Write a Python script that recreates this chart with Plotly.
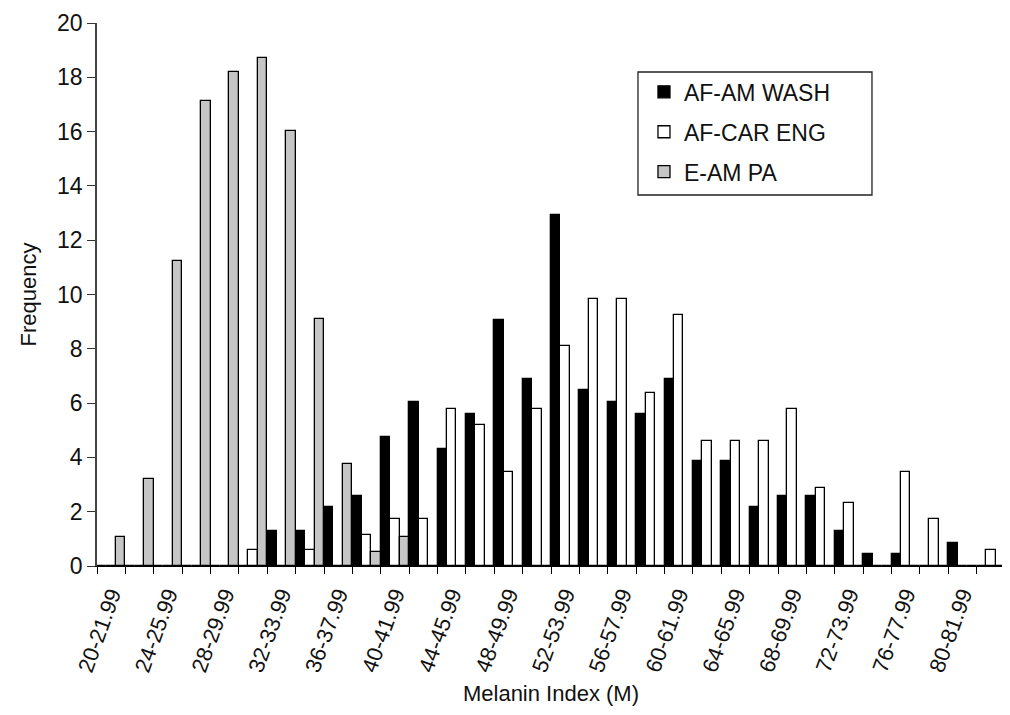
import plotly.graph_objects as go

categories = ["20-21.99", "22-23.99", "24-25.99", "26-27.99", "28-29.99", "30-31.99",
              "32-33.99", "34-35.99", "36-37.99", "38-39.99", "40-41.99", "42-43.99",
              "44-45.99", "46-47.99", "48-49.99", "50-51.99", "52-53.99", "54-55.99",
              "56-57.99", "58-59.99", "60-61.99", "62-63.99", "64-65.99", "66-67.99",
              "68-69.99", "70-71.99", "72-73.99", "74-75.99", "76-77.99", "78-79.99",
              "80-81.99", "82-83.99"]

af_am_wash = [0, 0, 0, 0, 0, 0, 1.29, 1.29, 2.16, 2.59, 4.74, 6.03, 4.31, 5.60, 9.05, 6.90,
              12.93, 6.47, 6.03, 5.60, 6.90, 3.88, 3.88, 2.16, 2.59, 2.59, 1.29, 0.43, 0.43,
              0, 0.86, 0]
af_car_eng = [0, 0, 0, 0, 0, 0.58, 0, 0.58, 0, 1.16, 1.73, 1.73, 5.78, 5.20, 3.47, 5.78,
              8.09, 9.83, 9.83, 6.36, 9.25, 4.62, 4.62, 4.62, 5.78, 2.89, 2.31, 0, 3.47,
              1.73, 0, 0.58]
e_am_pa = [1.07, 3.21, 11.23, 17.11, 18.18, 18.72, 16.04, 9.09, 3.74, 0.53, 1.07, 0, 0, 0, 0, 0,
           0, 0, 0, 0, 0, 0, 0, 0, 0, 0, 0, 0, 0, 0, 0, 0]

series_names = ["AF-AM WASH", "AF-CAR ENG", "E-AM PA"]
series_values = [af_am_wash, af_car_eng, e_am_pa]
series_colors = ["#000000", "#ffffff", "#c6c6c6"]

x_idx = list(range(len(categories)))

fig = go.Figure()
for name, vals, col in zip(series_names, series_values, series_colors):
    fig.add_trace(go.Bar(
        x=x_idx, y=vals, name=name, legendgroup=name,
        marker=dict(color=col, line=dict(color="#000000", width=1.3)),
    ))

FONT = "Arial, Liberation Sans, sans-serif"

fig.update_layout(
    width=1002, height=707,
    paper_bgcolor="white", plot_bgcolor="white",
    margin=dict(l=89, r=5, t=15, b=149, autoexpand=False),
    barmode="group", bargap=0, bargroupgap=0,
    font=dict(family=FONT, color="#111111", size=21),
    legend=dict(
        x=0.6024, y=0.9127, xanchor="left", yanchor="top",
        borderwidth=0, bgcolor="rgba(0,0,0,0)",
        font=dict(size=23, family=FONT), tracegroupgap=7,
        itemwidth=30,
    ),
    shapes=[dict(type="rect", xref="paper", yref="paper",
                 x0=0.5958, x1=0.8535, y0=0.6832, y1=0.9098,
                 line=dict(color="#222222", width=1.3), fillcolor="white", layer="below")],
    xaxis=dict(
        automargin=False,
        range=[-0.5, len(categories) - 0.5],
        tickmode="array",
        tickvals=x_idx[::2], ticktext=categories[::2],
        ticks="", tickangle=-70, ticklabelstandoff=6,
        tickfont=dict(size=22, family=FONT),
        showline=True, linecolor="#000000", linewidth=1.3,
        showgrid=False, zeroline=False,
        minor=dict(tickmode="array",
                   tickvals=[i - 0.5 for i in range(len(categories) + 1)],
                   ticks="outside", ticklen=7, tickcolor="#000000", tickwidth=1.3,
                   showgrid=False),
        title=dict(text="Melanin Index (M)", font=dict(size=22, family=FONT), standoff=10),
    ),
    yaxis=dict(
        automargin=False,
        range=[0, 20], dtick=2, tick0=0,
        ticks="outside", ticklen=8, tickcolor="#333333", tickwidth=1.3,
        tickfont=dict(size=23, family=FONT), ticklabeloverflow="allow",
        showline=True, linecolor="#444444", linewidth=1.5,
        showgrid=False, zeroline=False,
        title=dict(text="Frequency", font=dict(size=22, family=FONT), standoff=14),
    ),
)

fig.write_html("out.html")
